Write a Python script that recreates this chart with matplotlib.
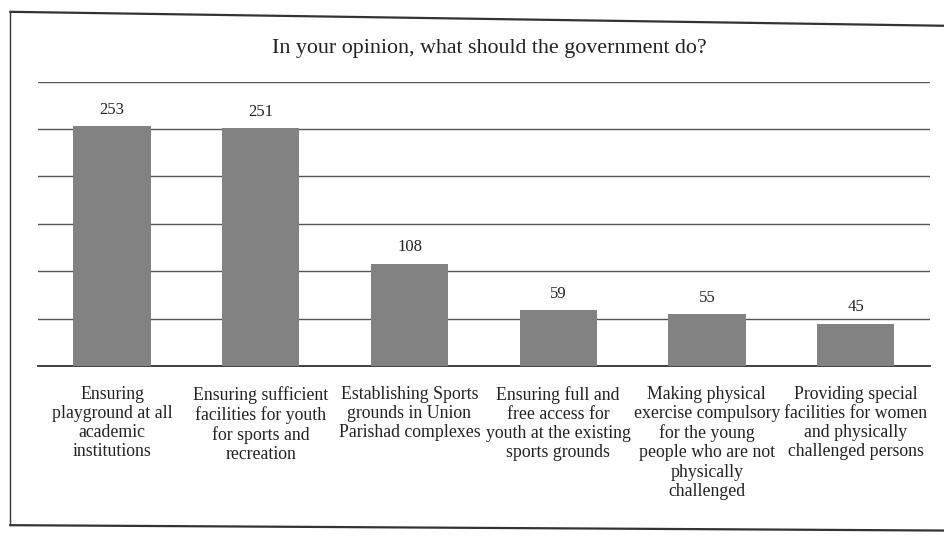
import matplotlib.pyplot as plt
from matplotlib.lines import Line2D

plt.rcParams['font.family'] = ['Liberation Serif', 'DejaVu Serif']

title = 'In your opinion, what should the government do?'
categories = [
    'Ensuring\nplayground at all\nacademic\ninstitutions',
    'Ensuring sufficient\nfacilities for youth\nfor sports and\nrecreation',
    'Establishing Sports\ngrounds in Union\nParishad complexes',
    'Ensuring full and\nfree access for\nyouth at the existing\nsports grounds',
    'Making physical\nexercise compulsory\nfor the young\npeople who are not\nphysically\nchallenged',
    'Providing special\nfacilities for women\nand physically\nchallenged persons',
]
responses = [253, 251, 108, 59, 55, 45]

fig = plt.figure(figsize=(9.45, 5.37), dpi=100)
ax = fig.add_axes([0.04, 0.318, 0.944, 0.53])

x = range(len(categories))
ax.bar(x, responses, width=0.52, color='#828282', zorder=3)
for xi, v in zip(x, responses):
    ax.text(xi, v + 9, str(v), ha='center', va='bottom', fontsize=12, color='#222222')

ax.set_xlim(-0.5, len(categories) - 0.5)
ax.set_ylim(0, 300)
ax.set_yticks(range(0, 301, 50))
ax.yaxis.grid(True, color='#555555', linewidth=1.0, zorder=0)
ax.tick_params(axis='y', length=0, labelleft=False)
ax.tick_params(axis='x', length=0, pad=14)
ax.set_xticks(list(x))
ax.set_xticklabels(categories, fontsize=12.8, color='#222222', linespacing=1.17, va='top')
for side in ['top', 'right', 'left']:
    ax.spines[side].set_visible(False)
ax.spines['bottom'].set_color('#333333')
ax.spines['bottom'].set_linewidth(1.3)

fig.text(0.518, 0.91, title, ha='center', va='center', fontsize=15.8, color='#222222')

# outer frame round the chart
frame = [
    Line2D([0.011, 1.0], [0.978, 0.952], color='#333333', linewidth=1.6),
    Line2D([0.011, 0.011], [0.978, 0.022], color='#333333', linewidth=1.0),
    Line2D([0.011, 1.0], [0.022, 0.012], color='#333333', linewidth=1.6),
]
for ln in frame:
    fig.add_artist(ln)

fig.savefig('out.png', dpi=100, facecolor='white')
